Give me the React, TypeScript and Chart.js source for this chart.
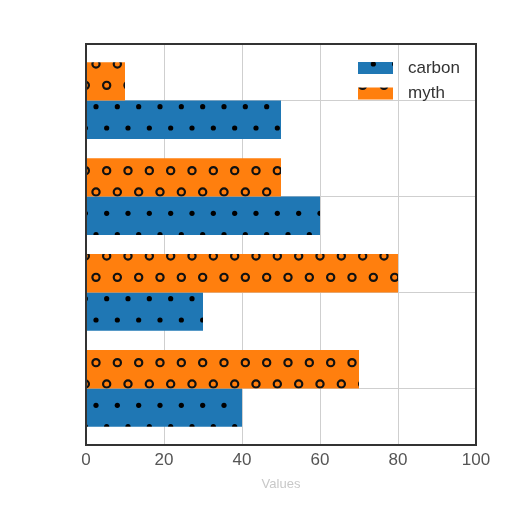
import React, { useEffect, useRef } from 'react';
import { Chart, registerables } from 'chart.js';

Chart.register(...registerables);

// groups top to bottom (no labels are shown on the y axis)
const groupPositions = [0, 1, 2, 3];
const carbonValues = [50, 60, 30, 40];
const mythValues = [10, 50, 80, 70];
const xTicks = [0, 20, 40, 60, 80, 100];

const BLUE = '#1f77b4';
const ORANGE = '#ff7f0e';
const STEP = 64 / 3;
const FONT = '"Liberation Sans", Arial, sans-serif';

function makeHatch(ctx: CanvasRenderingContext2D, fill: string, kind: 'dot' | 'ring'): CanvasPattern | string {
    const tile = document.createElement('canvas');
    tile.width = 64;
    tile.height = 128;
    const c = tile.getContext('2d');
    if (!c) return fill;
    c.fillStyle = fill;
    c.fillRect(0, 0, 64, 128);
    c.fillStyle = '#000';
    c.strokeStyle = '#111';
    c.lineWidth = 2.2;
    for (let row = -1; row <= 7; row++) {
        const y = row * STEP;
        const shift = Math.abs(row % 2) === 1 ? STEP / 2 : 0;
        for (let col = -1; col <= 4; col++) {
            const x = col * STEP + shift;
            c.beginPath();
            if (kind === 'dot') {
                c.arc(x, y, 2.6, 0, Math.PI * 2);
                c.fill();
            } else {
                c.arc(x, y, 3.6, 0, Math.PI * 2);
                c.stroke();
            }
        }
    }
    return ctx.createPattern(tile, 'repeat') ?? fill;
}

// full box around the plot + matplotlib-like legend inside the axes
const frameLegendPlugin = {
    id: 'frameLegend',
    afterDraw(chart: any) {
        const { ctx, chartArea: a } = chart;
        ctx.save();
        ctx.strokeStyle = '#333';
        ctx.lineWidth = 2;
        ctx.strokeRect(a.left, a.top, a.right - a.left, a.bottom - a.top);

        const x0 = a.right - 118;
        let y = a.top + 24;
        ctx.font = `17px ${FONT}`;
        ctx.textBaseline = 'middle';
        chart.data.datasets.forEach((ds: any) => {
            ctx.fillStyle = ds.backgroundColor;
            ctx.fillRect(x0, y - 6, 35, 12);
            ctx.fillStyle = '#333';
            ctx.fillText(ds.label, x0 + 50, y);
            y += 25.5;
        });
        ctx.restore();
    }
};

const App: React.FC = () => {
    const chartRef = useRef<HTMLCanvasElement>(null);
    const chartInstanceRef = useRef<Chart | null>(null);

    useEffect(() => {
        document.body.style.margin = '0';
        if (!chartRef.current) return;
        const ctx = chartRef.current.getContext('2d');
        if (!ctx) return;
        if (chartInstanceRef.current) chartInstanceRef.current.destroy();

        chartInstanceRef.current = new Chart(ctx, {
            type: 'bar',
            data: {
                datasets: [
                    {
                        label: 'carbon',
                        data: groupPositions.map((p, i) => ({ x: carbonValues[i], y: p })),
                        backgroundColor: makeHatch(ctx, BLUE, 'dot') as any,
                        borderWidth: 0,
                        barPercentage: 1,
                        categoryPercentage: 0.8,
                        order: 1
                    },
                    {
                        label: 'myth',
                        data: groupPositions.map((p, i) => ({ x: mythValues[i], y: p })),
                        backgroundColor: makeHatch(ctx, ORANGE, 'ring') as any,
                        borderWidth: 0,
                        barPercentage: 1,
                        categoryPercentage: 0.8,
                        order: 0
                    }
                ]
            },
            options: {
                indexAxis: 'y',
                responsive: false,
                animation: false,
                layout: { padding: { left: 86, right: 36, top: 44, bottom: 20 } },
                plugins: {
                    legend: { display: false },
                    tooltip: { enabled: false }
                },
                scales: {
                    x: {
                        min: 0,
                        max: 100,
                        afterBuildTicks: (axis: any) => {
                            axis.ticks = xTicks.map(v => ({ value: v }));
                        },
                        ticks: { color: '#555', padding: 5, font: { family: FONT, size: 17 } },
                        grid: { color: '#cfcfcf', drawTicks: false },
                        border: { display: false },
                        title: {
                            display: true,
                            text: 'Values',
                            color: '#c8c8c8',
                            font: { family: FONT, size: 13 },
                            padding: { top: 1, bottom: 0 }
                        }
                    },
                    y: {
                        type: 'linear',
                        reverse: true,
                        offset: false,
                        min: -0.59,
                        max: 3.59,
                        afterBuildTicks: (axis: any) => {
                            axis.ticks = groupPositions.map(v => ({ value: v }));
                        },
                        ticks: { display: false },
                        grid: { offset: false, color: '#cfcfcf', drawTicks: false },
                        border: { display: false }
                    }
                }
            },
            plugins: [frameLegendPlugin]
        });

        return () => {
            if (chartInstanceRef.current) {
                chartInstanceRef.current.destroy();
                chartInstanceRef.current = null;
            }
        };
    }, []);

    return <canvas ref={chartRef} width={512} height={512} style={{ display: 'block' }}></canvas>;
};

export default App;
